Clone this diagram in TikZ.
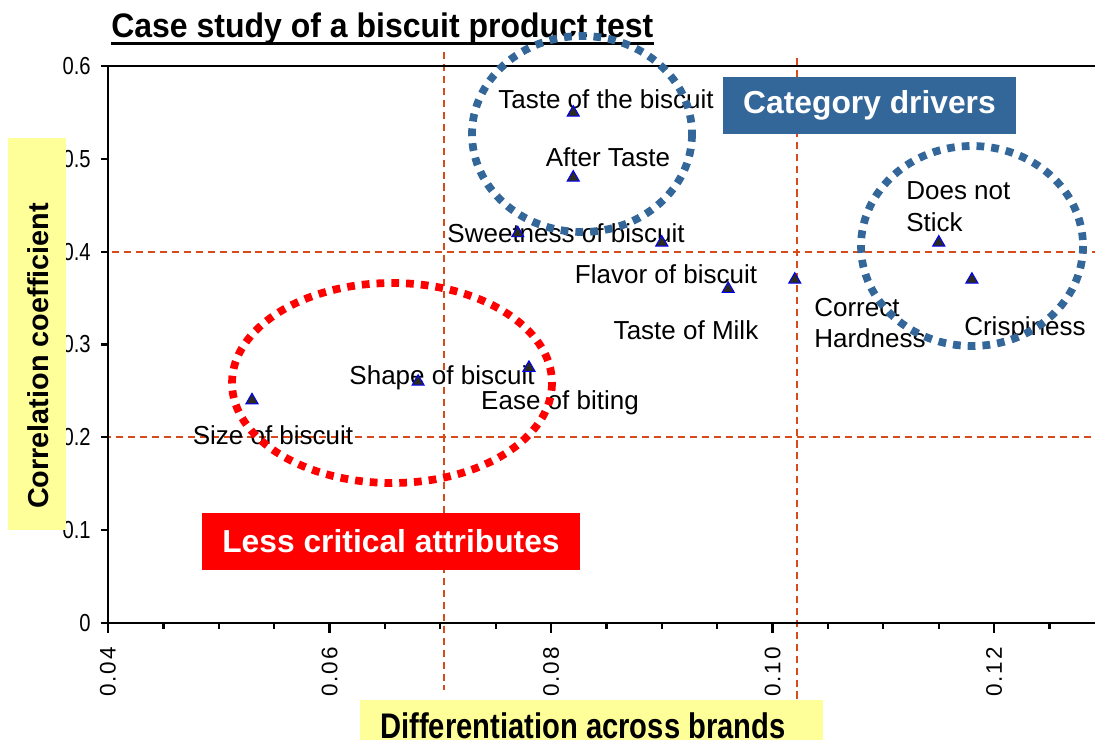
\documentclass[tikz,border=0pt]{standalone}
\usepackage{fontspec}
\setmainfont{Liberation Sans}
\newfontfamily\narrowfont[FakeStretch=0.82]{Liberation Sans}
\newfontfamily\titlefont[FakeStretch=0.94]{Liberation Sans}
\newfontfamily\spacedfont[LetterSpace=8]{Liberation Sans}
\usetikzlibrary{shapes.geometric}
\definecolor{drvblue}{HTML}{336699}
\definecolor{refred}{HTML}{D84A1B}
\definecolor{labelyellow}{HTML}{FFFF99}
\definecolor{markfill}{HTML}{2B2B1E}

\begin{document}
\begin{tikzpicture}[
    x=0.025cm, y=-0.025cm,
    axis/.style={line width=1.6pt, black},
    refline/.style={draw=refred, line width=1.3pt, dash pattern=on 5pt off 3.5pt},
    attr/.style={font=\fontsize{18.5}{22.5}\selectfont, inner sep=0pt},
    datapt/.style={regular polygon, regular polygon sides=3, minimum size=10pt, inner sep=0pt,
        fill=markfill, draw=blue, line width=0.7pt},
    ring/.style={line width=5.5pt, dash pattern=on 5.5pt off 5pt},
    tagbox/.style={font=\bfseries\fontsize{22.6}{26}\selectfont, text=white, minimum height=40.5pt, inner sep=0pt},
    ytick/.style={font=\narrowfont\fontsize{17.5}{19}\selectfont, anchor=east, inner sep=0pt},
    xtick/.style={font=\spacedfont\fontsize{16}{18}\selectfont, rotate=90, anchor=east, inner sep=0pt}
]
\useasboundingbox (0,0) rectangle (1095,740);

% title
\node[font=\titlefont\bfseries\fontsize{24.2}{28}\selectfont, anchor=base west, inner sep=0pt]
    (title) at (111,38) {Case study of a biscuit product test};
\draw[line width=2.1pt] ([yshift=-4pt]title.base west) -- ([yshift=-4pt]title.base east);

% quadrant lines
\draw[refline] (112,252) -- (1095,252);
\draw[refline] (104,437) -- (1095,437);
\draw[refline] (444,52) -- (444,690);
\draw[refline] (797,58) -- (797,700);

% axes and frame
\draw[line width=1.2pt] (108,66) -- (1095,66);
\draw[axis] (108,66) -- (108,623) -- (1095,623);
\foreach \v/\t in {0/0,1/0.1,2/0.2,3/0.3,4/0.4,5/0.5,6/0.6} {
    \draw[axis] (101,{623-\v*92.83}) -- (108,{623-\v*92.83});
    \node[ytick] (yt\v) at (91,{623-\v*92.83}) {\t};
}
\foreach \i in {0,...,17} {
    \pgfmathsetmacro\len{ifthenelse(mod(\i,4)==0,10,6)}
    \draw[axis] ({108+\i*55.375},623) -- ({108+\i*55.375},{623+\len});
}
\foreach \i/\t in {0/0.04,1/0.06,2/0.08,3/0.10,4/0.12}
    \node[xtick] (xt\i) at ({108+\i*221.5},647) {\t};

% attribute labels
\node[attr] (l-taste) at (606,99) {Taste of the biscuit};
\node[attr] (l-after) at (608,157) {After Taste};
\node[attr] (l-sweet) at (566,233) {Sweetness of biscuit};
\node[attr] (l-flavor) at (666,274) {Flavor of biscuit};
\node[attr] (l-milk) at (686,330) {Taste of Milk};
\node[attr, anchor=west, align=left] (l-hard) at (814,323) {Correct\\Hardness};
\node[attr, anchor=west, align=left] (l-stick) at (906,207) {Does not\\Stick};
\node[attr] (l-crisp) at (1025,329) {Crispiness};
\node[attr] (l-shape) at (442,378) {Shape of biscuit};
\node[attr] (l-ease) at (560,403) {Ease of biting};
\node[attr] (l-size) at (273,435) {Size of biscuit};

% data points
\foreach \name/\dx/\dy in {taste/0.082/0.55, after/0.082/0.48, sweet/0.077/0.42,
        flavor/0.090/0.41, milk/0.096/0.36, hard/0.102/0.37, stick/0.115/0.41,
        crisp/0.118/0.37, size/0.053/0.24, shape/0.068/0.26, ease/0.078/0.275}
    \node[datapt] (p-\name) at ({108+(\dx-0.04)*11075},{623-\dy*928}) {};

% groupings
\draw[ring, drvblue] (582,134) ellipse [x radius=110, y radius=98];
\draw[ring, drvblue] (972,246) ellipse [x radius=111, y radius=100];
\draw[ring, red] (392,383) ellipse [x radius=160, y radius=100];

\node[tagbox, fill=drvblue, minimum width=208.4pt] (drivers) at (869.5,105.5) {Category drivers};
\node[tagbox, fill=red, minimum width=268.9pt] (lesscrit) at (391,541.5) {Less critical attributes};

% axis titles
\node[fill=labelyellow, minimum width=41.3pt, minimum height=278.8pt, inner sep=0pt] (ybox) at (37,334) {};
\node[rotate=90, font=\bfseries\fontsize{20.5}{24}\selectfont, inner sep=0pt] (ylabel) at (38,356) {Correlation coefficient};
\node[fill=labelyellow, minimum width=329.3pt, minimum height=32pt, inner sep=0pt] (xbox) at (591.5,722.5) {};
\node[font=\narrowfont\bfseries\fontsize{25.3}{28}\selectfont, anchor=base, inner sep=0pt] (xlabel) at (583,738) {Differentiation across brands};
\end{tikzpicture}
\end{document}
